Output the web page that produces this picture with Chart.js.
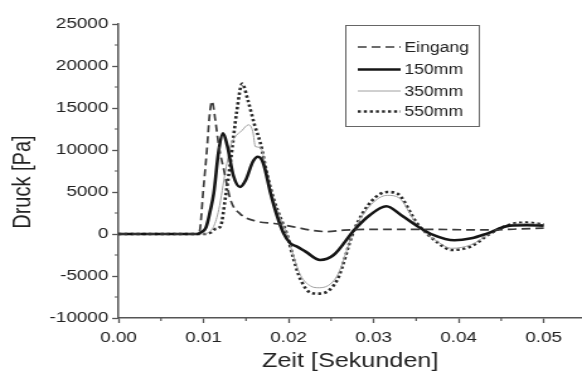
<!DOCTYPE html>
<html>
<head>
<meta charset="utf-8">
<script src="https://cdn.jsdelivr.net/npm/chart.js@4.4.1/dist/chart.umd.min.js"></script>
<style>
  html, body { margin: 0; padding: 0; background: #fff; }
  #c { display: block; }
</style>
</head>
<body>
<canvas id="c" width="462" height="372" style="width:582px;height:372px"></canvas>
<script>
// --- data (time in s, pressure in Pa) ---
const seriesNames = ['Eingang', '150mm', '350mm', '550mm'];

const eingangT = [0, 0.0090, 0.0095, 0.0100, 0.0104, 0.0107, 0.0110, 0.0114, 0.0118, 0.0124, 0.0132, 0.0143, 0.0163, 0.0183, 0.0206, 0.0230, 0.0245, 0.0265, 0.0290, 0.0330, 0.0370, 0.0410, 0.0440, 0.0470, 0.0500];
const eingangP = [0, 0, 200, 5500, 10000, 14000, 15800, 13500, 10500, 7600, 4000, 2400, 1500, 1250, 850, 400, 280, 450, 550, 550, 550, 500, 480, 600, 700];

const mm150T = [0, 0.0093, 0.0097, 0.0103, 0.0108, 0.0112, 0.0118, 0.0123, 0.0128, 0.0135, 0.0143, 0.0150, 0.0158, 0.0164, 0.0170, 0.0179, 0.0186, 0.0194, 0.0202, 0.0210, 0.0220, 0.0237, 0.0253, 0.0277, 0.0295, 0.0315, 0.0333, 0.0352, 0.0370, 0.0395, 0.0415, 0.0434, 0.0460, 0.0480, 0.0500];
const mm150P = [0, 0, 200, 800, 2800, 4800, 10000, 12000, 10500, 7000, 5600, 6500, 8600, 9200, 8500, 4800, 2300, 100, -1100, -1500, -2100, -3100, -2500, 450, 2200, 3300, 2200, 900, -100, -750, -500, 80, 1000, 1050, 1000];

const mm350T = [0, 0.0100, 0.0106, 0.0112, 0.0118, 0.0126, 0.0132, 0.0136, 0.0145, 0.0153, 0.0158, 0.0161, 0.0167, 0.0175, 0.0183, 0.0191, 0.0198, 0.0206, 0.0214, 0.0226, 0.0236, 0.0257, 0.0277, 0.0297, 0.0316, 0.0330, 0.0351, 0.0375, 0.0392, 0.0414, 0.0438, 0.0465, 0.0480, 0.0500];
const mm350P = [0, 0, 200, 900, 2900, 7600, 10500, 11400, 12300, 13000, 12200, 10400, 10300, 6900, 3900, 1700, 0, -2700, -4900, -6200, -6400, -5000, 450, 3500, 4600, 4300, 1100, -900, -1700, -1300, 100, 1150, 1250, 1100];

const mm550T = [0, 0.0102, 0.0108, 0.0114, 0.0120, 0.0126, 0.0132, 0.0139, 0.01455, 0.0152, 0.0160, 0.0167, 0.0175, 0.0183, 0.0191, 0.0198, 0.0206, 0.0214, 0.0226, 0.0236, 0.0257, 0.0277, 0.0297, 0.0316, 0.0328, 0.0351, 0.0375, 0.0392, 0.0414, 0.0438, 0.0465, 0.0480, 0.0500];
const mm550P = [0, 0, 150, 600, 900, 4500, 8800, 14500, 17900, 16000, 13000, 10800, 7000, 4000, 1800, 0, -3000, -5400, -7000, -7100, -5500, 450, 3850, 5000, 4800, 1300, -1000, -1900, -1500, 100, 1250, 1350, 1150];

// axis ticks
const xTicks = [0, 0.01, 0.02, 0.03, 0.04, 0.05];
const xMinor = [0.005, 0.015, 0.025, 0.035, 0.045];
const yTicks = [-10000, -5000, 0, 5000, 10000, 15000, 20000, 25000];
const yMinor = [-7500, -2500, 2500, 7500, 12500, 17500, 22500];

const FONT = "'Liberation Sans', Arial, sans-serif";
const pts = (t, p) => t.map((v, i) => ({ x: v, y: p[i] }));

const styles = [
  { color: '#3c3c3c', width: 1.7, dash: [7, 4] },
  { color: '#161616', width: 2.6, dash: [] },
  { color: '#a0a0a0', width: 1, dash: [] },
  { color: '#2a2a2a', width: 2.6, dash: [2.4, 2.4] }
];
const seriesData = [pts(eingangT, eingangP), pts(mm150T, mm150P), pts(mm350T, mm350P), pts(mm550T, mm550P)];

// minor ticks + boxed legend inside the plot
const extras = {
  id: 'extras',
  afterDraw(chart) {
    const ctx = chart.ctx;
    const xs = chart.scales.x, ys = chart.scales.y;
    ctx.save();
    ctx.strokeStyle = '#555';
    ctx.lineWidth = 1.2;
    ctx.beginPath();
    xMinor.forEach(v => {
      const px = xs.getPixelForValue(v);
      ctx.moveTo(px, xs.top);
      ctx.lineTo(px, xs.top + 3);
    });
    yMinor.forEach(v => {
      const py = ys.getPixelForValue(v);
      ctx.moveTo(ys.right, py);
      ctx.lineTo(ys.right - 3, py);
    });
    ctx.stroke();

    // legend
    const bx = 274, by = 25, bw = 106, bh = 101;
    ctx.fillStyle = '#fff';
    ctx.fillRect(bx, by, bw, bh);
    ctx.strokeStyle = '#666';
    ctx.lineWidth = 1;
    ctx.strokeRect(bx + 0.5, by + 0.5, bw, bh);
    const rows = [47, 69.5, 91, 111.5];
    ctx.font = '14px ' + FONT;
    ctx.textBaseline = 'middle';
    ctx.textAlign = 'left';
    chart.data.datasets.forEach((ds, i) => {
      const y = rows[i];
      ctx.beginPath();
      ctx.strokeStyle = ds.borderColor;
      ctx.lineWidth = ds.borderWidth;
      ctx.setLineDash(ds.borderDash);
      ctx.moveTo(284, y);
      ctx.lineTo(318, y);
      ctx.stroke();
      ctx.setLineDash([]);
      ctx.fillStyle = '#222';
      ctx.fillText(ds.label, 321, y + 1);
    });
    ctx.restore();
  }
};

new Chart(document.getElementById('c'), {
  type: 'line',
  data: {
    datasets: seriesNames.map((name, i) => ({
      label: name,
      data: seriesData[i],
      borderColor: styles[i].color,
      borderWidth: styles[i].width,
      borderDash: styles[i].dash,
      pointRadius: 0,
      fill: false,
      cubicInterpolationMode: 'monotone'
    }))
  },
  options: {
    responsive: false,
    animation: false,
    devicePixelRatio: 1,
    layout: { padding: { top: 24, right: 0, bottom: 0, left: 0 } },
    plugins: { legend: { display: false }, tooltip: { enabled: false } },
    scales: {
      x: {
        type: 'linear',
        min: 0,
        max: 0.0545,
        afterFit: s => { s.height = 54; },
        afterBuildTicks: s => { s.ticks = xTicks.map(v => ({ value: v })); },
        border: { display: true, color: '#555', width: 1.5 },
        grid: { drawOnChartArea: false, drawTicks: true, tickLength: 5, tickColor: '#555', tickWidth: 1.3 },
        ticks: {
          color: '#222',
          font: { family: FONT, size: 15 },
          padding: 6,
          maxRotation: 0,
          autoSkip: false,
          callback: v => v.toFixed(2)
        },
        title: {
          display: true,
          text: 'Zeit [Sekunden]',
          color: '#222',
          font: { family: FONT, size: 20, lineHeight: 1.1 },
          padding: { top: 0, bottom: 0 }
        }
      },
      y: {
        min: -10000,
        max: 25000,
        afterFit: s => { s.width = 94; },
        afterBuildTicks: s => { s.ticks = yTicks.map(v => ({ value: v })); },
        border: { display: true, color: '#555', width: 1.5 },
        grid: { drawOnChartArea: false, drawTicks: true, tickLength: 5, tickColor: '#555', tickWidth: 1.3 },
        ticks: {
          color: '#222',
          font: { family: FONT, size: 15 },
          padding: 3,
          autoSkip: false,
          callback: v => String(v)
        },
        title: {
          display: true,
          text: 'Druck [Pa]    ',
          color: '#222',
          font: { family: FONT, size: 20, lineHeight: 1.2 },
          padding: { top: 6, bottom: 0 }
        }
      }
    }
  },
  plugins: [extras]
});
</script>
</body>
</html>
